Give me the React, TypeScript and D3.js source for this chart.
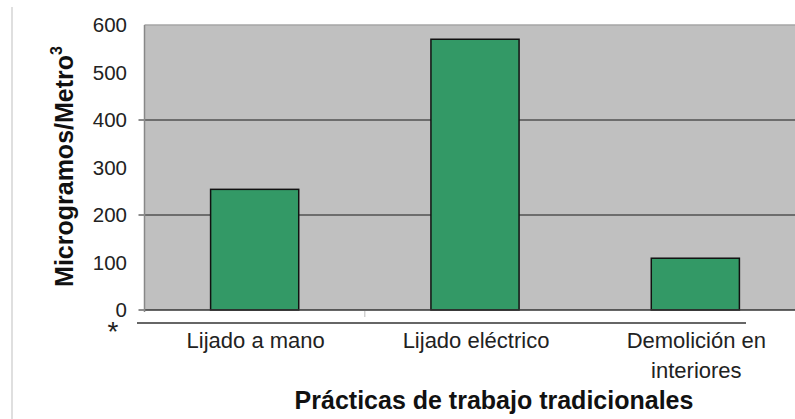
import React from "react";
import * as d3 from "d3";

const categories = ["Lijado a mano", "Lijado eléctrico", "Demolición en interiores"];
const categoryLines = [["Lijado a mano"], ["Lijado eléctrico"], ["Demolición en", "interiores"]];
const values = [254, 570, 109];
const yTickLabels = [0, 100, 200, 300, 400, 500, 600];
const gridValues = [200, 400];
const majorTicks = [0, 200, 400];
const yTitle = "Microgramos/Metro";
const xTitle = "Prácticas de trabajo tradicionales";

export default function App() {
  const W = 795, H = 419;
  const left = 144.5, right = 805.5, top = 25, bottom = 310;
  const x = d3.scaleBand<string>().domain(categories).range([left, right]).paddingInner(0.6).paddingOuter(0.3);
  const y = d3.scaleLinear().domain([0, 600]).range([bottom, top]);
  const step = x.step();
  const font = "'Liberation Sans', Arial, sans-serif";
  return (
    <svg width={W} height={H} style={{ position: "absolute", left: 0, top: 0, background: "#fff" }} fontFamily={font}>
      <line x1={12} x2={12} y1={7} y2={419} stroke="#d4d4d4" strokeWidth={1.5} />
      <rect x={left} y={top} width={right - left} height={bottom - top} fill="#c0c0c0" />
      <line x1={left} x2={right} y1={top} y2={top} stroke="#a6a6a6" strokeWidth={1.5} />
      {gridValues.map((v) => (
        <line key={v} x1={left} x2={right} y1={y(v)} y2={y(v)} stroke="#1a1a1a" strokeWidth={1} />
      ))}
      {majorTicks.map((v) => (
        <line key={"t" + v} x1={138.5} x2={left} y1={y(v)} y2={y(v)} stroke="#1a1a1a" strokeWidth={1} />
      ))}
      {categories.map((c, i) => (
        <rect key={c} x={x(c)!} y={y(values[i])} width={x.bandwidth()} height={bottom - y(values[i])}
          fill="#339966" stroke="#111" strokeWidth={1.5} />
      ))}
      <line x1={left} x2={right} y1={bottom} y2={bottom} stroke="#333" strokeWidth={1.5} />
      <line x1={left} x2={left} y1={top} y2={bottom + 2} stroke="#888" strokeWidth={1.5} />
      <line x1={left + step} x2={left + step} y1={bottom + 1} y2={bottom + 7} stroke="#bbb" strokeWidth={1} />
      <line x1={137} x2={746} y1={323} y2={323} stroke="#333" strokeWidth={1.5} />
      <text x={113} y={341} fontSize={28} textAnchor="middle" fill="#222">*</text>
      {yTickLabels.map((v) => (
        <text key={v} x={127} y={y(v)} dy="0.36em" fontSize={20.5} textAnchor="end" fill="#222">{v}</text>
      ))}
      {categories.map((c, i) => (
        <text key={c} x={x(c)! + x.bandwidth() / 2 + 1} y={348} fontSize={22} textAnchor="middle" fill="#222">
          {categoryLines[i].map((ln, j) => (
            <tspan key={j} x={x(c)! + x.bandwidth() / 2 + 1} dy={j === 0 ? 0 : 30}>{ln}</tspan>
          ))}
        </text>
      ))}
      <text x={494} y={409} fontSize={25} fontWeight="bold" textAnchor="middle" fill="#111">{xTitle}</text>
      <text transform="translate(73,166.5) rotate(-90)" fontSize={25} fontWeight="bold" textAnchor="middle" fill="#111">
        {yTitle}<tspan fontSize={16} dy={-11}>3</tspan>
      </text>
    </svg>
  );
}
